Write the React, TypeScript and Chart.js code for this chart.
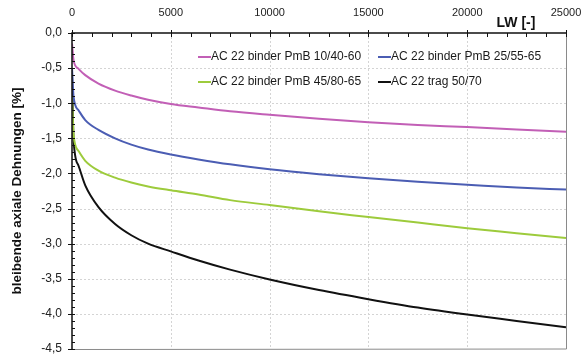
import React, { useEffect, useRef } from "react";
import { Chart, registerables } from "chart.js";

Chart.register(...registerables);

// Load cycles (LW)
const cycles = [1, 80, 330, 670, 1340, 2180, 3000, 3850, 5000, 6400, 8000, 10000, 12500, 15000, 17500, 20000, 22500, 25000];

// Permanent axial strain [%] per mix
const pmb1040 = [-0.15, -0.39, -0.51, -0.60, -0.72, -0.82, -0.89, -0.95, -1.01, -1.06, -1.115, -1.165, -1.22, -1.27, -1.31, -1.34, -1.375, -1.405];
const pmb2555 = [-0.50, -0.91, -1.10, -1.24, -1.38, -1.50, -1.59, -1.66, -1.73, -1.80, -1.87, -1.94, -2.01, -2.07, -2.12, -2.16, -2.20, -2.23];
const pmb4580 = [-0.90, -1.45, -1.68, -1.82, -1.96, -2.06, -2.13, -2.185, -2.24, -2.30, -2.38, -2.45, -2.54, -2.62, -2.70, -2.78, -2.85, -2.92];
const trag5070 = [-0.60, -1.52, -1.89, -2.17, -2.48, -2.72, -2.88, -3.00, -3.11, -3.24, -3.37, -3.51, -3.66, -3.79, -3.91, -4.01, -4.10, -4.19];

const seriesNames = [
  "AC 22 binder PmB 10/40-60",
  "AC 22 binder PmB 25/55-65",
  "AC 22 binder PmB 45/80-65",
  "AC 22 trag 50/70",
];
const seriesColors = ["#c25fb6", "#4b5db3", "#9dcb3c", "#111111"];
const seriesValues = [pmb1040, pmb2555, pmb4580, trag5070];

const FONT = "'Liberation Sans', Arial, sans-serif";

const frame = {
  id: "frame",
  beforeDatasetsDraw(chart: any) {
    const { ctx, chartArea: a, scales } = chart;
    const x = scales.x;
    const y = scales.y;
    ctx.save();
    ctx.strokeStyle = "#d4d4d4";
    ctx.lineWidth = 1;
    ctx.setLineDash([2, 2]);
    for (let v = 5000; v < 25000; v += 5000) {
      const px = Math.round(x.getPixelForValue(v)) + 0.5;
      ctx.beginPath();
      ctx.moveTo(px, a.top);
      ctx.lineTo(px, a.bottom);
      ctx.stroke();
    }
    for (let v = -0.5; v > -4.5; v -= 0.5) {
      const py = Math.round(y.getPixelForValue(v)) + 0.5;
      ctx.beginPath();
      ctx.moveTo(a.left, py);
      ctx.lineTo(a.right, py);
      ctx.stroke();
    }
    ctx.restore();
  },
  afterDatasetsDraw(chart: any) {
    const { ctx, chartArea: a, scales } = chart;
    const x = scales.x;
    const y = scales.y;
    ctx.save();
    // right and bottom border
    ctx.strokeStyle = "#8a8a8a";
    ctx.lineWidth = 1;
    ctx.beginPath();
    ctx.moveTo(Math.round(a.right) + 0.5, a.top);
    ctx.lineTo(Math.round(a.right) + 0.5, a.bottom);
    ctx.lineTo(a.left, Math.round(a.bottom) + 0.5);
    ctx.stroke();
    // axes
    ctx.strokeStyle = "#111";
    ctx.lineWidth = 1.5;
    ctx.beginPath();
    ctx.moveTo(a.left, a.bottom);
    ctx.lineTo(a.left, a.top);
    ctx.lineTo(a.right, a.top);
    ctx.stroke();
    // tick marks
    ctx.lineWidth = 1;
    for (let v = 0; v <= 25000; v += 1000) {
      const px = Math.round(x.getPixelForValue(v)) + 0.5;
      ctx.beginPath();
      ctx.moveTo(px, a.top - (v % 5000 === 0 ? 3 : 0));
      ctx.lineTo(px, a.top + 4);
      ctx.stroke();
    }
    for (let i = 0; i <= 45; i++) {
      const py = Math.round(y.getPixelForValue(-i / 10)) + 0.5;
      ctx.beginPath();
      ctx.moveTo(a.left - (i % 5 === 0 ? 4 : 0), py);
      ctx.lineTo(a.left + 3, py);
      ctx.stroke();
    }
    // legend
    ctx.font = `12px ${FONT}`;
    ctx.textBaseline = "middle";
    ctx.textAlign = "left";
    const cols = [a.left + 126, a.left + 306];
    const rows = [a.top + 24, a.top + 49];
    seriesNames.forEach((name, i) => {
      const lx = cols[i % 2];
      const ly = rows[Math.floor(i / 2)];
      ctx.strokeStyle = seriesColors[i];
      ctx.lineWidth = 2;
      ctx.beginPath();
      ctx.moveTo(lx, ly);
      ctx.lineTo(lx + 13, ly);
      ctx.stroke();
      ctx.fillStyle = "#1a1a1a";
      ctx.fillText(name, lx + 13, ly);
    });
    // x axis label
    ctx.font = `bold 14px ${FONT}`;
    ctx.textAlign = "center";
    ctx.fillStyle = "#111";
    ctx.fillText("LW [-]", 516, 23);
    ctx.restore();
  },
};

export default function App() {
  const ref = useRef<HTMLCanvasElement>(null);

  useEffect(() => {
    document.body.style.margin = "0";
    const chart = new Chart(ref.current!, {
      type: "line",
      data: {
        datasets: seriesValues.map((vals, i) => ({
          label: seriesNames[i],
          data: cycles.map((c, j) => ({ x: c, y: vals[j] })),
          borderColor: seriesColors[i],
          backgroundColor: seriesColors[i],
          borderWidth: 2,
          pointRadius: 0,
          cubicInterpolationMode: "monotone" as const,
          fill: false,
        })),
      },
      options: {
        responsive: false,
        animation: false,
        layout: { padding: { left: 0, right: 20, top: 0, bottom: 11 } },
        plugins: { legend: { display: false }, tooltip: { enabled: false } },
        scales: {
          x: {
            type: "linear",
            position: "top",
            min: 0,
            max: 25000,
            grid: { display: false, drawTicks: false },
            border: { display: false },
            ticks: {
              stepSize: 5000,
              padding: 13,
              color: "#222",
              font: { family: FONT, size: 11 },
              callback: (v: any) => String(v),
            },
            afterFit: (s: any) => {
              s.height = 33;
              s.paddingLeft = 0;
              s.paddingRight = 0;
            },
          },
          y: {
            type: "linear",
            min: -4.5,
            max: 0,
            grid: { display: false, drawTicks: false },
            border: { display: false },
            ticks: {
              stepSize: 0.5,
              padding: 10,
              color: "#222",
              font: { family: FONT, size: 12 },
              callback: (v: any) => Number(v).toFixed(1).replace(".", ","),
            },
            title: {
              display: true,
              text: "bleibende axiale Dehnungen [%]",
              color: "#111",
              font: { family: FONT, size: 13.5, weight: "bold" },
              padding: { top: 9, bottom: 0 },
            },
            afterFit: (s: any) => {
              s.width = 72;
              s.paddingTop = 0;
              s.paddingBottom = 0;
            },
          },
        },
      },
      plugins: [frame],
    });
    return () => chart.destroy();
  }, []);

  return (
    <div style={{ width: 586, height: 360, background: "#fff" }}>
      <canvas ref={ref} width={586} height={360} />
    </div>
  );
}
